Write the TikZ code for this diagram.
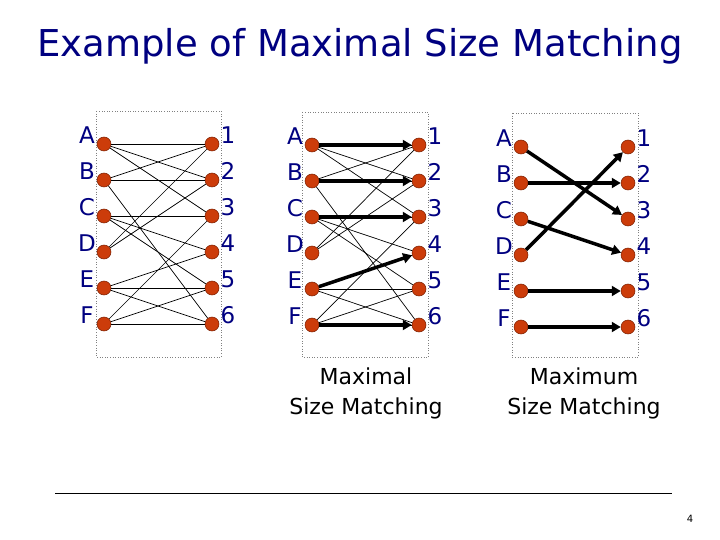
\documentclass[tikz,border=0pt]{standalone}
\usepackage{fontspec}
\setmainfont{DejaVu Sans}
\usetikzlibrary{arrows.meta}

\definecolor{navyblue}{RGB}{0,0,128}
\definecolor{vertexred}{RGB}{204,60,10}
\definecolor{vertexrim}{RGB}{120,30,0}

\tikzset{
  vertex/.style={circle, fill=vertexred, draw=vertexrim, line width=0.5pt,
    minimum size=14pt, inner sep=0pt},
  vlabel/.style={text=navyblue, font=\fontsize{23}{23}\selectfont, inner sep=0pt},
  edge/.style={line width=0.7pt},
  matchedge/.style={line width=3.5pt, -{Triangle[length=9pt,width=10pt]}},
  framebox/.style={draw=gray, dotted, line width=0.6pt},
  caption/.style={align=center, font=\fontsize{22}{30}\selectfont},
}

\begin{document}
\begin{tikzpicture}[x=1pt, y=-1pt]
  \useasboundingbox (0,0) rectangle (720,540);

  % ---- Title ----
  \node[text=navyblue, font=\fontsize{37}{40}\selectfont] (title) at (360,46)
    {Example of Maximal Size Matching};

  % ---- Frames ----
  \draw[framebox] (96,111) rectangle (221,357);
  \draw[framebox] (302,112) rectangle (428,357);
  \draw[framebox] (512,113) rectangle (638,357);

  % ---- Vertices (left A-F, right 1-6) ----
  \foreach \g/\xl/\xr/\yt in {g1/104/212/144, g2/312/419/145, g3/521/628/147} {
    \foreach \l [count=\i] in {A,B,C,D,E,F} {
      \node[vertex] (\g-\l) at (\xl,\yt+36*\i-36) {};
      \node[vlabel] (\g-\l-lbl) at ([shift={(-17,-9)}]\g-\l) {\l};
      \node[vertex] (\g-\i) at (\xr,\yt+36*\i-36) {};
      \node[vlabel] (\g-\i-lbl) at ([shift={(16,-9)}]\g-\i) {\i};
    }
  }

  % Requests (same graph twice)
  \foreach \g in {g1,g2}
    \foreach \u/\v in {A/1,A/2,A/3,B/1,B/2,B/6,C/3,C/4,C/5,D/1,D/2,E/4,E/5,E/6,F/3,F/5,F/6}
      \draw[edge] (\g-\u) -- (\g-\v);

  % Maximal matching
  \foreach \u/\v in {A/1,B/2,C/3,E/4,F/6}
    \draw[matchedge] (g2-\u) -- (g2-\v);

  % Maximum matching
  \foreach \u/\v in {A/3,B/2,C/4,D/1,E/5,F/6}
    \draw[matchedge] (g3-\u) -- (g3-\v);

  % ---- Captions ----
  \node[caption] (maximal) at (366,393) {Maximal\\Size Matching};
  \node[caption] (maximum) at (584,393) {Maximum\\Size Matching};

  % Footer
  \draw[line width=0.8pt] (55,493) -- (672,493);
  \node[font=\fontsize{10}{12}\selectfont] (pagenum) at (690,519) {4};

\end{tikzpicture}
\end{document}
